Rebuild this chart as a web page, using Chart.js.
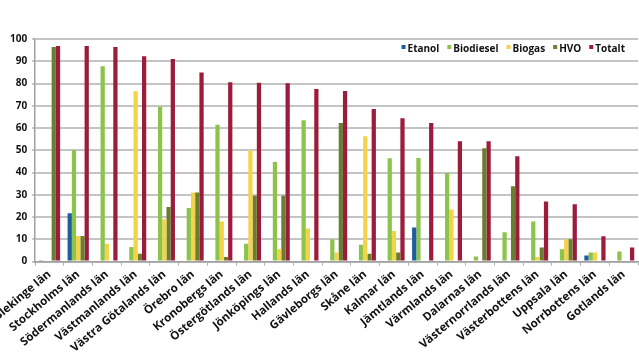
<!DOCTYPE html>
<html>
<head>
<meta charset="utf-8">
<script src="https://cdn.jsdelivr.net/npm/chart.js@4.4.1/dist/chart.umd.min.js"></script>
<style>
html,body{margin:0;padding:0;background:#fff;}
#wrap{width:639px;height:359px;}
</style>
</head>
<body>
<div id="wrap"><canvas id="c" width="639" height="359"></canvas></div>
<script>
const categories = ["Blekinge län","Stockholms län","Södermanlands län","Västmanlands län","Västra Götalands län","Örebro län","Kronobergs län","Östergötlands län","Jönköpings län","Hallands län","Gävleborgs län","Skåne län","Kalmar län","Jämtlands län","Värmlands län","Dalarnas län","Västernorrlands län","Västerbottens län","Uppsala län","Norrbottens län","Gotlands län"];
const etanol    = [0.3, 21.7, 0, 0, 0, 0, 0, 0, 0, 0, 0, 0, 0, 15.3, 0, 0, 0, 0, 0, 2.7, 0];
const biodiesel = [0, 50, 87.8, 6.5, 69.5, 24, 61.5, 8, 44.7, 63.5, 9.9, 7.5, 46.4, 46.5, 39.8, 2.3, 13.1, 18, 5.5, 4, 4.5];
const biogas    = [0, 11.5, 8, 76.5, 19, 31, 18, 50, 5.5, 14.8, 4, 56.3, 13.7, 0, 23.4, 0, 0, 2, 10, 4, 0.5];
const hvo       = [96.4, 11.5, 0, 3.5, 24.5, 31, 2, 29.5, 29.5, 0, 62.3, 3.5, 4, 0, 0, 50.9, 33.8, 6.3, 10, 0, 0];
const totalt    = [96.8, 96.8, 96.4, 92.3, 91, 85, 80.6, 80.3, 80.1, 77.5, 76.6, 68.5, 64.4, 62.2, 54, 54, 47.3, 27, 25.7, 11.3, 6.3];
const seriesNames = ["Etanol","Biodiesel","Biogas","HVO","Totalt"];
const yTicks = [0,10,20,30,40,50,60,70,80,90,100];

const colors = ["#1f5e9c","#8cc34b","#f3d34a","#6b7d33","#9c1c3c"];
const seriesData = [etanol, biodiesel, biogas, hvo, totalt];
const FONT = "'Open Sans', sans-serif";

const legendPlugin = {
  id: 'insideLegend',
  afterDraw(chart) {
    const ctx = chart.ctx;
    const ca = chart.chartArea;
    ctx.save();
    ctx.font = "bold 10px " + FONT;
    ctx.textBaseline = 'middle';
    const box = 4, gap = 2, itemGap = 8;
    const items = chart.data.datasets.map(d => ({label: d.label, color: d.backgroundColor, w: ctx.measureText(d.label).width}));
    let total = 0;
    items.forEach((it,i) => { total += box + gap + it.w + (i < items.length-1 ? itemGap : 0); });
    let x = ca.right - 13 - total;
    const y = ca.top + 10;
    items.forEach(it => {
      ctx.fillStyle = it.color;
      ctx.fillRect(x, y - 4, box, box);
      x += box + gap;
      ctx.fillStyle = '#111';
      ctx.fillText(it.label, x, y);
      x += it.w + itemGap;
    });
    ctx.restore();
  }
};

new Chart(document.getElementById('c'), {
  type: 'bar',
  data: {
    labels: categories,
    datasets: seriesNames.map((n,i)=>({
      label: n,
      data: seriesData[i],
      backgroundColor: colors[i],
      borderWidth: 0,
      barPercentage: 1.0,
      categoryPercentage: 0.74
    }))
  },
  plugins: [legendPlugin],
  options: {
    responsive: false,
    animation: false,
    devicePixelRatio: 1,
    layout: { padding: { top: 39, right: 1, left: 5, bottom: 2 } },
    plugins: {
      tooltip: { enabled: false },
      legend: { display: false }
    },
    scales: {
      x: {
        afterFit: (scale) => { scale.paddingLeft = 0; scale.paddingRight = 0; },
        grid: { display: true, drawOnChartArea: false, drawTicks: true, tickLength: 4, color: '#b0b0b0', lineWidth: 1, offset: true },
        border: { display: true, color: '#a0a0a0', width: 1.5 },
        ticks: {
          autoSkip: false, maxRotation: 40, minRotation: 40, padding: 2,
          color: '#111',
          font: { family: FONT, size: 11.5, weight: 'bold' }
        }
      },
      y: {
        min: 0, max: 100,
        afterBuildTicks: (axis) => { axis.ticks = yTicks.map(v=>({value:v})); },
        grid: { color: '#c4c4c4', lineWidth: 2, tickLength: 3 },
        border: { display: true, color: '#a0a0a0', width: 1.5 },
        ticks: {
          padding: 5, color: '#111',
          font: { family: FONT, size: 10, weight: 'bold' }
        }
      }
    }
  }
});
</script>
</body>
</html>
